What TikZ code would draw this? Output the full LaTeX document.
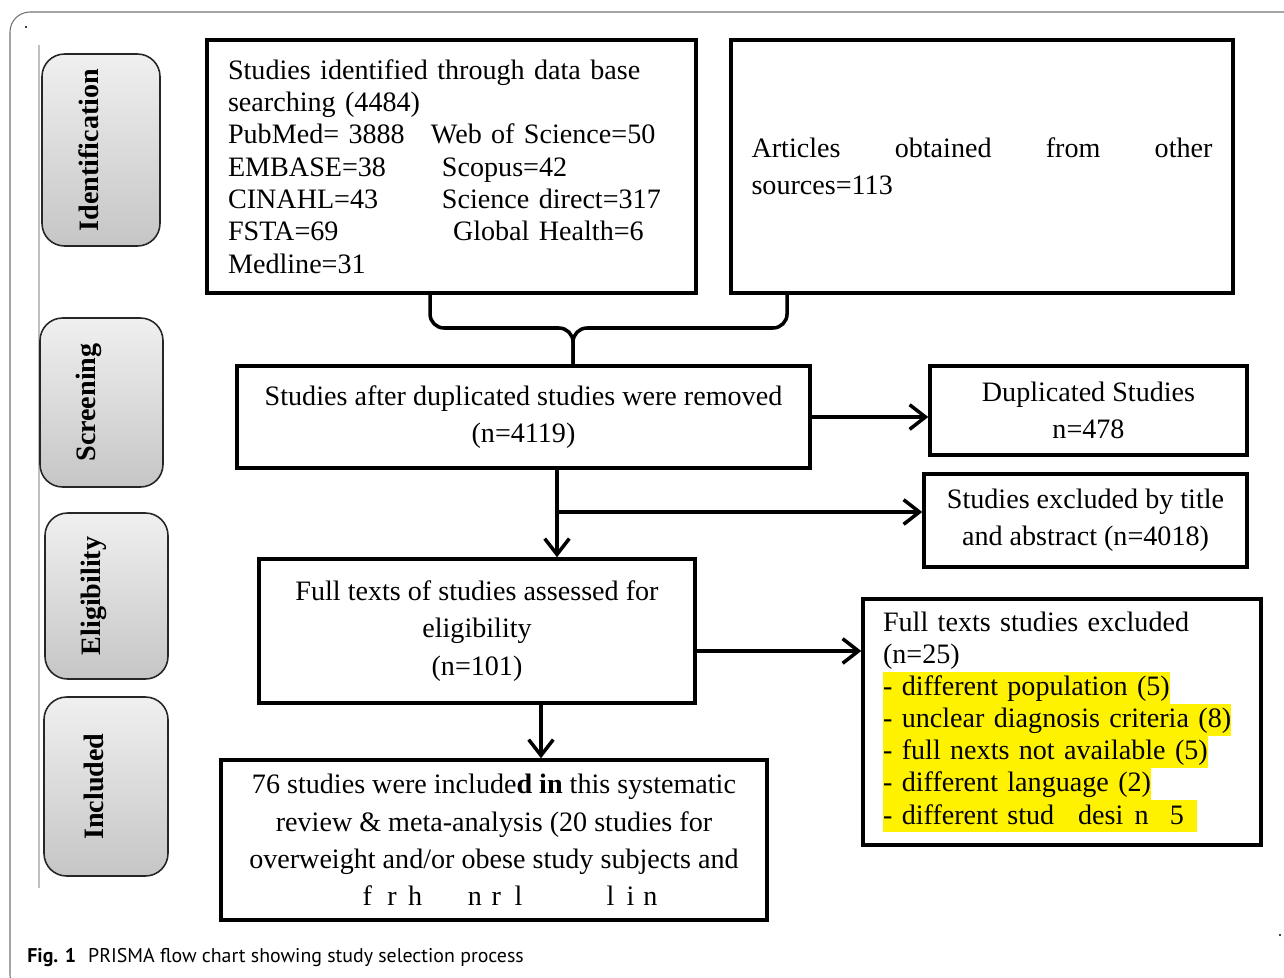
\documentclass[tikz,border=0pt]{standalone}
\usepackage{fontspec}
\setmainfont{Liberation Serif}
\setsansfont{PT Sans}
\usetikzlibrary{arrows.meta}

\newcommand{\hlline}[1]{{\setlength{\fboxsep}{0pt}\colorbox{yellow}{\rule[-4.8pt]{0pt}{18.3pt}#1}}}

\tikzset{
  stage/.style={draw=black!85, line width=0.9pt, rounded corners=0.45cm,
    top color=gray!12, bottom color=gray!45,
    font=\fontsize{16}{18}\selectfont\bfseries},
  flowbox/.style={draw, line width=2pt, inner sep=0pt, align=center,
    font=\fontsize{16}{21.3}\selectfont},
  tight/.style={font=\fontsize{16}{18.4}\selectfont},
  link/.style={line width=2pt, -{Straight Barb[length=9pt,width=14pt]}},
  bracket/.style={line width=2pt, rounded corners=8pt},
}

\begin{document}
\begin{tikzpicture}[x=0.02cm,y=-0.02cm]
\useasboundingbox (0,0) rectangle (1284,977);

% outer frame
\begin{scope}
    \clip (0,0) rectangle (1284,977);
    \draw[black!55, line width=0.6pt, rounded corners=0.4cm] (10,12) rectangle (1310,995);
\end{scope}
\draw[black!25, line width=0.8pt] (39,45) -- (39,888);
\fill (26,27) circle (1.2);
\fill (1280,935) circle (1.2);

% stages
\begin{scope}[every node/.style={stage}]
    \node[minimum width=2.36cm, minimum height=3.84cm] (identification) at (101,150) {\rotatebox{90}{Identification}\kern0.5cm};
    \node[minimum width=2.46cm, minimum height=3.38cm] (screening) at (101.5,402.5) {\rotatebox{90}{Screening}\kern0.5cm};
    \node[minimum width=2.46cm, minimum height=3.32cm] (eligibility) at (106.5,596) {\rotatebox{90}{Eligibility}\kern0.5cm};
    \node[minimum width=2.48cm, minimum height=3.58cm] (included) at (106,786.5) {\rotatebox{90}{Included}\kern0.5cm};
\end{scope}

% boxes
\node[flowbox, tight, align=left, minimum width=9.78cm, minimum height=5.06cm,
    text width=8.94cm, inner xsep=0.42cm] (db) at (451.5,166.5)
    {Studies identified through data base\\
     searching (4484)\\
     \makebox[4.06cm][l]{PubMed= 3888}Web of Science=50\\
     \makebox[4.28cm][l]{EMBASE=38}Scopus=42\\
     \makebox[4.28cm][l]{CINAHL=43}Science direct=317\\
     \makebox[4.5cm][l]{FSTA=69}Global Health=6\\
     Medline=31};
\node[flowbox, align=left, minimum width=10.04cm, minimum height=5.06cm,
    text width=9.22cm, inner xsep=0.41cm] (other) at (982,166.5)
    {Articles\hfill obtained\hfill from\hfill other\\ sources=113};
\node[flowbox, minimum width=11.46cm, minimum height=2.04cm] (dedup) at (523.5,417)
    {Studies after duplicated studies were removed\\(n=4119)};
\node[flowbox, minimum width=6.34cm, minimum height=1.78cm] (dup) at (1088.5,410.5)
    {Duplicated Studies\\n=478};
\node[flowbox, minimum width=6.46cm, minimum height=1.86cm] (titleex) at (1085.5,520.5)
    {Studies excluded by title\\and abstract (n=4018)};
\node[flowbox, minimum width=8.72cm, minimum height=2.88cm] (fulltext) at (477,631)
    {Full texts of studies assessed for\\eligibility\\(n=101)};
\node[flowbox, align=left, font=\fontsize{16}{18.3}\selectfont, minimum width=7.96cm,
    minimum height=4.92cm, text width=7.16cm, inner xsep=0.4cm] (ftex) at (1062,722)
    {Full texts studies excluded\\
     (n=25)\\
     \hlline{- different population (5)}\\
     \hlline{- unclear diagnosis criteria (8)}\\
     \hlline{- full nexts not available (5)}\\
     \hlline{- different language (2)}\\
     \hlline{- different stud\hspace{0.85em}desi\hspace{0.4em}n\hspace{0.75em}5\hspace{0.45em}}};
\node[flowbox, minimum width=10.92cm, minimum height=3.2cm] (incl) at (494,840)
    {76 studies were include\textbf{d in} this systematic\\
     review \& meta-analysis (20 studies for\\
     overweight and/or obese study subjects and\\
     \kern0.64cm f\hspace{0.55em}r\hspace{0.41em}h\hspace{1.62em}n\hspace{0.35em}r\hspace{0.48em}l\hspace{3em}l\hspace{0.43em}i\hspace{0.32em}n};

% bracket
\coordinate (stem) at (573,328);
\draw[bracket] ([xshift=-0.43cm]db.south) |- (stem) -- (stem |- dedup.north);
\draw[bracket] ([xshift=-3.9cm]other.south) |- (stem) -- (stem |- dedup.north);

% arrows
\coordinate (split) at (557,512);
\draw[link] (dedup.east) -- (dedup.east -| dup.west);
\draw[line width=2pt] (dedup.south -| split) -- (split);
\draw[link] (split) -- (fulltext.north -| split);
\draw[link] (split) -- (split -| titleex.west);
\draw[link] ([yshift=-0.4cm]fulltext.east) -- ([yshift=-0.4cm]fulltext.east -| ftex.west);
\draw[link] ([xshift=1.28cm]fulltext.south) -- ([xshift=1.28cm]fulltext.south |- incl.north);

\node[anchor=west, inner sep=0pt, font=\sffamily\fontsize{11.3}{13}\selectfont] (caption) at (27,958)
    {\textbf{Fig. 1}\hspace{0.6em}PRISMA flow chart showing study selection process};

\end{tikzpicture}
\end{document}
